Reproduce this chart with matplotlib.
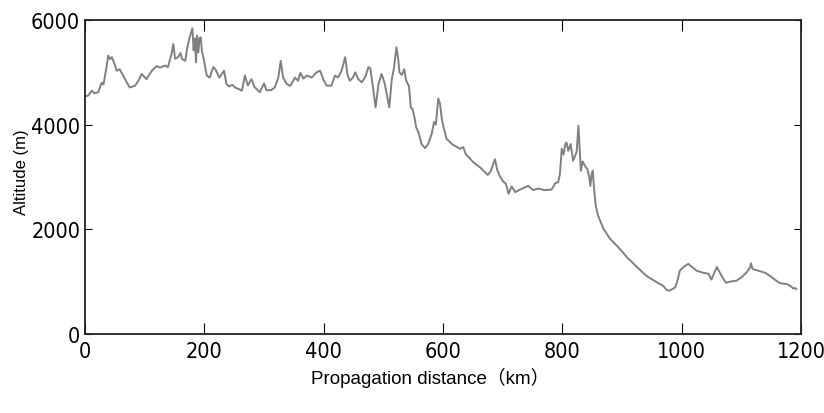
import matplotlib
matplotlib.use("Agg")
import matplotlib.pyplot as plt
from matplotlib import font_manager

# Profile along the propagation path (km, m)
distance_km = [
    0, 6, 11, 16, 22, 28, 31, 35, 39, 42, 45, 49, 53, 58, 62, 68, 75, 84, 90, 95,
    103, 108, 112, 120, 126, 134, 139, 145, 148, 151, 156, 160, 163, 168, 171, 176, 180, 182, 184, 186,
    188, 190, 192, 194, 196, 199, 204, 209, 215, 219, 225, 229, 233, 237, 241, 247, 253, 258, 263, 268,
    273, 279, 284, 293, 300, 304, 312, 318, 324, 328, 332, 338, 344, 352, 357, 361, 366, 372, 380, 388,
    394, 400, 405, 413, 419, 424, 430, 436, 440, 444, 449, 453, 458, 464, 470, 475, 478, 481, 484, 487,
    490, 492, 497, 502, 507, 510, 514, 518, 522, 525, 527, 531, 535, 538, 541, 543, 546, 549, 552, 555,
    559, 564, 570, 575, 581, 585, 588, 592, 595, 598, 601, 606, 615, 628, 634, 638, 651, 662, 675, 680,
    687, 691, 696, 701, 705, 710, 715, 721, 729, 743, 751, 760, 770, 782, 788, 793, 796, 799, 802, 805,
    807, 810, 814, 818, 822, 824, 827, 829, 831, 834, 838, 842, 845, 847, 849, 851, 853, 856, 860, 869,
    880, 891, 900, 908, 925, 941, 958, 969, 975, 980, 989, 993, 997, 1003, 1011, 1025, 1036, 1045, 1050, 1054,
    1059, 1066, 1074, 1081, 1092, 1100, 1109, 1115, 1116, 1119, 1128, 1140, 1148, 1156, 1165, 1176, 1182, 1187, 1190, 1192,
]
altitude_m = [
    4540, 4560, 4650, 4600, 4620, 4800, 4770, 5030, 5320, 5250, 5290, 5180, 5030, 5060, 4980, 4850, 4710, 4745, 4850, 4970,
    4870, 4960, 5030, 5120, 5090, 5130, 5100, 5350, 5540, 5260, 5290, 5370, 5250, 5220, 5450, 5700, 5840, 5420, 5650, 5190,
    5700, 5380, 5650, 5670, 5400, 5250, 4940, 4900, 5100, 5050, 4900, 4960, 5030, 4780, 4730, 4760, 4700, 4680, 4650, 4940,
    4750, 4870, 4720, 4620, 4790, 4660, 4660, 4710, 4900, 5220, 4900, 4780, 4740, 4900, 4840, 4990, 4880, 4940, 4900, 5000,
    5030, 4850, 4745, 4745, 4940, 4900, 5030, 5290, 4950, 4840, 4900, 5000, 4870, 4810, 4920, 5100, 5080, 4850, 4600, 4330,
    4600, 4780, 4970, 4800, 4500, 4330, 4850, 5100, 5480, 5250, 5000, 4950, 5060, 4850, 4780, 4740, 4330, 4300, 4150, 3950,
    3850, 3630, 3550, 3630, 3820, 4050, 4000, 4500, 4400, 4110, 3950, 3730, 3630, 3540, 3570, 3440, 3280, 3185, 3040, 3110,
    3340, 3130, 3000, 2910, 2880, 2680, 2820, 2710, 2760, 2830, 2750, 2780, 2750, 2760, 2880, 2900, 3060, 3540, 3430, 3630,
    3660, 3500, 3630, 3310, 3420, 3480, 3980, 3550, 3120, 3300, 3210, 3150, 3000, 2830, 3050, 3120, 2800, 2450, 2260, 2010,
    1820, 1690, 1580, 1470, 1280, 1110, 990, 920, 840, 830, 890, 1020, 1210, 1280, 1340, 1210, 1170, 1150, 1040, 1150,
    1280, 1130, 980, 1000, 1020, 1080, 1180, 1280, 1350, 1240, 1210, 1170, 1110, 1040, 970, 955, 920, 870, 880, 860,
]

x_ticks = [0, 200, 400, 600, 800, 1000, 1200]
y_ticks = [0, 2000, 4000, 6000]

LINE_COLOR = "#808080"

# schmale Schrift fuer Tick-Zahlen, falls vorhanden
installed = {f.name for f in font_manager.fontManager.ttflist}
if "Liberation Sans Narrow" in installed:
    tick_font = dict(family="Liberation Sans Narrow")
else:
    tick_font = dict(family="DejaVu Sans", stretch="condensed")


def main():
    fig = plt.figure(figsize=(8.24, 4.14), dpi=100)
    ax = fig.add_axes([85 / 824, 79 / 414, 716 / 824, 314 / 414])

    ax.plot(distance_km, altitude_m, color=LINE_COLOR, linewidth=1.4)

    ax.set_xlim(0, 1200)
    ax.set_ylim(0, 6000)
    ax.set_xticks(x_ticks)
    ax.set_yticks(y_ticks)

    ax.tick_params(axis="x", direction="in", length=8, width=0.8, top=True, pad=5)
    ax.tick_params(axis="y", direction="in", length=5, width=0.8, right=True, pad=3.5)
    for lbl in ax.get_xticklabels() + ax.get_yticklabels():
        lbl.set_fontsize(15.5)
        lbl.set_fontfamily(tick_font["family"])
        if "stretch" in tick_font:
            lbl.set_fontstretch(tick_font["stretch"])

    for sp in ax.spines.values():
        sp.set_linewidth(1.3)
        sp.set_color("#222222")

    # Achsentitel
    fig.text(430 / 824, 1 - 378 / 414, "Propagation distance（km）",
             ha="center", va="center", fontsize=13.5,
             family=["Liberation Sans", "Noto Sans CJK SC"])
    fig.text(22 / 824, 1 - 172 / 414, "Altitude (m)", rotation=90,
             ha="center", va="center", fontsize=12, family="Liberation Sans")

    fig.savefig("out.png", dpi=100)
    plt.close(fig)


if __name__ == "__main__":
    main()
